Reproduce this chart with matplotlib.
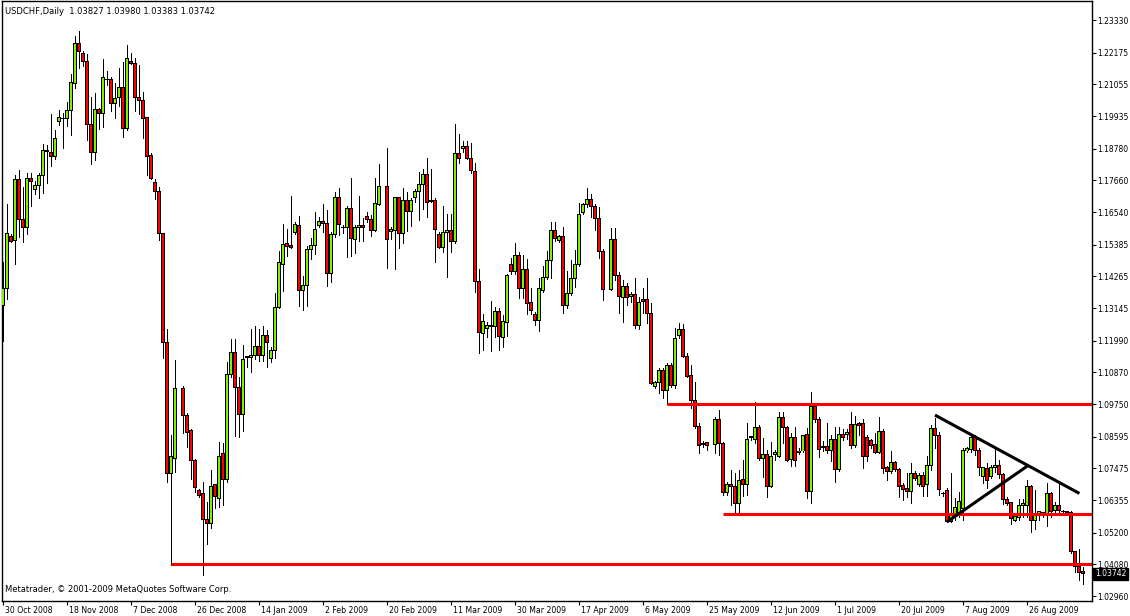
import numpy as np
import matplotlib
matplotlib.use("Agg")
import matplotlib.pyplot as plt
from matplotlib.patches import Rectangle
from matplotlib.collections import LineCollection, PatchCollection
from matplotlib.transforms import ScaledTranslation, blended_transform_factory

N = None
opens = [1.1322,1.1384,1.1569,1.1555,1.1768,1.1628,1.1599,1.1774,1.1734,1.1749,1.1784,1.1870,1.1865,1.1850,1.1975,1.1983,1.1985,1.2014,1.2109,1.2250,
 1.2213,1.2188,1.1963,1.1865,1.2018,1.2003,1.2124,1.2124,1.2038,1.2059,1.2094,1.1949,1.2188,1.2180,1.2059,1.2050,1.1988,1.1855,1.1759,1.1728,
 1.1578,1.1194,1.0730,1.0783,N,1.1031,1.0936,1.0880,1.0777,1.0671,1.0657,1.0567,1.0553,1.0689,1.0642,1.0801,1.0709,1.1081,1.1158,1.1033,
 1.0939,1.1143,1.1140,1.1148,1.1180,1.1148,1.1216,1.1137,1.1163,1.1318,1.1470,1.1543,1.1534,1.1581,1.1608,1.1376,1.1394,1.1520,1.1537,1.1606,
 1.1622,1.1614,1.1436,1.1573,1.1707,1.1598,1.1600,1.1667,1.1558,1.1599,1.1608,1.1637,1.1629,1.1590,1.1682,N,1.1743,1.1585,1.1588,1.1704,
 1.1579,1.1693,1.1655,1.1705,1.1726,1.1752,1.1785,1.1695,1.1695,1.1576,1.1529,1.1581,1.1590,1.1549,1.1862,1.1879,1.1887,1.1844,1.1799,1.1408,
 1.1225,1.1243,1.1251,1.1249,1.1302,1.1211,1.1264,1.1469,1.1443,1.1502,1.1384,1.1451,1.1334,1.1293,1.1270,1.1377,1.1423,1.1484,1.1587,1.1553,
 1.1569,1.1322,1.1367,1.1420,1.1469,1.1651,1.1682,1.1699,1.1675,1.1632,1.1516,N,1.1381,1.1558,1.1429,1.1352,1.1390,1.1355,1.1363,1.1252,
 1.1343,1.1343,1.1296,1.1038,1.1051,1.1092,1.1022,1.1110,1.1039,1.1216,1.1239,1.1142,1.1075,1.0989,1.0895,1.0834,1.0840,N,1.0833,1.0922,
 1.0836,1.0662,1.0691,1.0685,1.0624,1.0709,1.0691,1.0856,1.0850,1.0893,1.0783,1.0798,1.0685,1.0797,1.0791,1.0928,1.0893,1.0780,1.0857,1.0809,
 1.0809,1.0868,1.0666,1.0968,1.0919,1.0824,1.0824,1.0810,1.0851,1.0744,1.0868,1.0866,1.0903,1.0828,1.0905,1.0907,1.0856,1.0845,1.0833,1.0803,
 1.0877,1.0750,1.0736,1.0769,1.0744,1.0688,1.0677,1.0665,1.0730,1.0691,1.0721,1.0690,1.0757,1.0888,1.0865,1.0660,1.0671,1.0559,1.0577,1.0589,
 1.0606,1.0809,1.0816,1.0856,1.0812,1.0718,1.0748,1.0718,1.0750,1.0759,1.0726,1.0639,1.0627,1.0563,1.0573,1.0615,1.0615,1.0685,1.0565,1.0589,
 1.0592,1.0589,1.0659,1.0597,1.0618,1.0595,1.0596,1.0591,1.0453,1.0400,1.03827]
highs = [1.1478,1.1684,1.1578,1.1784,1.1803,1.1743,1.1793,1.1793,1.1765,1.1793,1.1893,1.1890,1.1999,1.1943,1.2015,1.2003,1.2043,1.2143,1.2278,1.2294,
 1.2224,1.2213,1.2059,1.2074,1.2022,1.2195,1.2153,1.2130,1.2109,1.2163,1.2183,1.2244,1.2215,1.2197,1.2175,1.2080,1.1990,1.1863,1.1772,1.1743,
 1.1580,1.1240,1.0866,1.1131,N,1.1039,1.0942,1.0886,1.0780,1.0674,1.0700,1.0630,1.0742,1.0692,1.0842,1.0838,1.1125,1.1205,1.1205,1.1072,
 1.1184,1.1145,1.1239,1.1251,1.1239,1.1251,1.1237,1.1176,1.1366,1.1516,1.1612,1.1594,1.1711,1.1618,1.1641,1.1429,1.1535,1.1561,1.1653,1.1635,
 1.1681,1.1661,1.1584,1.1726,1.1740,1.1608,1.1676,1.1773,1.1608,1.1711,1.1634,1.1655,1.1643,1.1775,1.1823,N,1.1879,1.1602,1.1708,1.1708,
 1.1738,1.1726,1.1702,1.1735,1.1794,1.1806,1.1846,1.1806,1.1702,1.1584,1.1675,1.1646,1.1646,1.1965,1.1930,1.1905,1.1905,1.1897,1.1826,1.1451,
 1.1292,1.1266,1.1339,1.1319,1.1313,1.1290,1.1434,1.1492,1.1546,1.1514,1.1502,1.1488,1.1384,1.1302,1.1420,1.1464,1.1516,1.1620,1.1620,1.1573,
 1.1602,1.1447,1.1484,1.1520,1.1685,1.1687,1.1738,1.1718,1.1682,1.1673,1.1522,N,1.1596,1.1596,1.1443,1.1414,1.1402,1.1372,1.1420,1.1355,
 1.1384,1.1420,1.1333,1.1057,1.1101,1.1101,1.1119,1.1119,1.1243,1.1260,1.1258,1.1157,1.1113,1.1054,1.0907,1.0845,1.0842,N,1.0928,1.0954,
 1.0842,1.0700,1.0742,1.0730,1.0742,1.0777,1.0907,1.0860,1.0983,1.0901,1.0856,1.0812,1.0842,1.0812,1.0948,1.0948,1.0898,1.0872,1.0893,1.0818,
 1.0866,1.0889,1.1019,1.0978,1.0928,1.0846,1.0907,1.0866,1.0895,1.0895,1.0886,1.0886,1.0948,1.0933,1.0910,1.0921,1.0866,1.0851,1.0872,1.0930,
 1.0886,1.0756,1.0809,1.0774,1.0748,1.0695,1.0730,1.0765,1.0738,1.0730,1.0736,1.0793,1.0900,1.0924,1.0877,1.0663,1.0677,1.0730,1.0644,1.0665,
 1.0818,1.0822,1.0868,1.0866,1.0818,1.0754,1.0765,1.0760,1.0816,1.0777,1.0730,1.0648,1.0630,1.0580,1.0641,1.0641,1.0706,1.0688,1.0671,1.0598,
 1.0593,1.0697,1.0663,1.0630,1.0691,1.0600,1.0598,1.0597,1.0455,1.0462,1.03980]
lows = [1.1197,1.1347,1.1547,1.1469,1.1565,1.1547,1.1578,1.1674,1.1718,1.1705,1.1722,1.1755,1.1818,1.1840,1.1962,1.1881,1.1959,1.1928,1.2093,1.2165,
 1.2172,1.1909,1.1825,1.1837,1.1947,1.1955,1.2103,1.2012,1.1988,1.2030,1.1918,1.1943,1.2178,1.2013,1.2000,1.1915,1.1784,1.1772,1.1700,1.1555,
 1.1138,1.0700,1.0406,1.0736,N,1.0874,1.0824,1.0709,1.0665,1.0647,1.0371,1.0480,1.0536,1.0606,1.0612,1.0618,1.0700,1.1070,1.0863,1.0857,
 1.0881,1.1105,1.1089,1.1133,1.1128,1.1128,1.1107,1.1122,1.1138,1.1316,1.1375,1.1500,1.1526,1.1577,1.1323,1.1308,1.1323,1.1488,1.1506,1.1600,
 1.1584,1.1394,1.1406,1.1567,1.1573,1.1579,1.1496,1.1500,1.1508,1.1552,1.1552,1.1620,1.1570,1.1588,1.1679,N,1.1457,1.1559,1.1453,1.1528,
 1.1543,1.1587,1.1606,1.1688,1.1626,1.1665,1.1637,1.1691,1.1478,1.1528,1.1514,1.1425,1.1514,1.1543,1.1828,1.1867,1.1841,1.1793,1.1370,1.1154,
 1.1166,1.1211,1.1164,1.1213,1.1166,1.1176,1.1217,1.1434,1.1434,1.1351,1.1351,1.1293,1.1293,1.1255,1.1233,1.1372,1.1417,1.1420,1.1553,1.1549,
 1.1298,1.1314,1.1361,1.1390,1.1463,1.1646,1.1673,1.1635,1.1590,1.1493,1.1343,N,1.1378,1.1414,1.1296,1.1266,1.1325,1.1337,1.1243,1.1240,
 1.1296,1.1261,1.1046,1.1031,1.1015,1.0995,1.0975,1.1034,1.1031,1.1208,1.1140,1.1072,1.0960,1.0889,1.0803,1.0822,1.0812,N,1.0801,1.0795,
 1.0653,1.0653,1.0618,1.0591,1.0595,1.0650,1.0653,1.0848,1.0836,1.0777,1.0716,1.0645,1.0683,1.0777,1.0787,1.0836,1.0775,1.0756,1.0756,1.0798,
 1.0807,1.0642,1.0626,1.0913,1.0789,1.0810,1.0801,1.0774,1.0700,1.0739,1.0848,1.0853,1.0821,1.0824,1.0864,1.0748,1.0772,1.0818,1.0801,1.0801,
 1.0732,1.0706,1.0730,1.0738,1.0648,1.0636,1.0648,1.0624,1.0706,1.0686,1.0651,1.0651,1.0741,1.0818,1.0653,1.0651,1.0557,1.0557,1.0565,1.0577,
 1.0565,1.0807,1.0807,1.0795,1.0724,1.0695,1.0677,1.0715,1.0736,1.0712,1.0621,1.0618,1.0550,1.0560,1.0565,1.0577,1.0574,1.0524,1.0533,1.0565,
 1.0577,1.0544,1.0577,1.0592,1.0583,1.0589,1.0585,1.0447,1.0382,1.0353,1.03383]
closes = [1.1384,1.1578,1.1550,1.1768,1.1628,1.1599,1.1774,1.1762,1.1749,1.1784,1.1870,1.1868,1.1850,1.1915,1.1988,1.1985,1.2014,1.2113,1.2250,1.2222,
 1.2188,1.1963,1.1865,1.2018,1.2003,1.2130,1.2122,1.2038,1.2057,1.2094,1.1949,1.2197,1.2179,1.2059,1.2050,1.1984,1.1850,1.1774,1.1728,1.1578,
 1.1194,1.0730,1.0789,1.1031,N,1.0936,1.0874,1.0777,1.0681,1.0651,1.0567,1.0553,1.0685,1.0647,1.0791,1.0709,1.1081,1.1158,1.1033,1.0939,
 1.1131,1.1141,1.1148,1.1180,1.1148,1.1216,1.1193,1.1163,1.1318,1.1474,1.1540,1.1531,1.1528,1.1611,1.1376,1.1394,1.1520,1.1537,1.1593,1.1622,
 1.1613,1.1436,1.1573,1.1707,1.1611,1.1600,1.1667,1.1561,1.1599,1.1608,1.1599,1.1628,1.1588,1.1685,1.1743,N,1.1558,1.1592,1.1704,1.1579,
 1.1693,1.1655,1.1695,1.1728,1.1753,1.1785,1.1687,1.1692,1.1593,1.1529,1.1582,1.1590,1.1549,1.1862,1.1844,1.1887,1.1844,1.1800,1.1408,1.1227,
 1.1266,1.1251,1.1249,1.1302,1.1213,1.1266,1.1429,1.1443,1.1502,1.1384,1.1451,1.1331,1.1305,1.1270,1.1382,1.1423,1.1482,1.1587,1.1561,1.1569,
 1.1323,1.1367,1.1420,1.1469,1.1646,1.1681,1.1699,1.1673,1.1632,1.1514,1.1381,N,1.1558,1.1429,1.1355,1.1390,1.1352,1.1363,1.1252,1.1335,
 1.1339,1.1296,1.1048,1.1051,1.1092,1.1022,1.1113,1.1039,1.1208,1.1239,1.1142,1.1074,1.0989,1.0895,1.0830,1.0831,1.0827,N,1.0922,1.0836,
 1.0662,1.0691,1.0683,1.0624,1.0706,1.0691,1.0850,1.0859,1.0893,1.0783,1.0798,1.0685,1.0789,1.0803,1.0928,1.0893,1.0777,1.0857,1.0775,1.0803,
 1.0863,1.0665,1.0968,1.0919,1.0815,1.0820,1.0810,1.0851,1.0744,1.0868,1.0857,1.0874,1.0830,1.0903,1.0900,1.0789,1.0789,1.0827,1.0803,1.0877,
 1.0748,1.0736,1.0769,1.0744,1.0683,1.0673,1.0667,1.0730,1.0712,1.0721,1.0683,1.0757,1.0888,1.0865,1.0674,1.0657,1.0559,1.0589,1.0610,1.0632,
 1.0812,1.0818,1.0856,1.0812,1.0750,1.0750,1.0706,1.0750,1.0759,1.0726,1.0639,1.0624,1.0571,1.0577,1.0615,1.0622,1.0685,1.0565,1.0589,1.0595,
 1.0590,1.0659,1.0595,1.0618,1.0600,1.0594,1.0592,1.0453,1.0400,1.0380,1.03742]

date_labels = ["30 Oct 2008", "18 Nov 2008", "7 Dec 2008", "26 Dec 2008", "14 Jan 2009", "2 Feb 2009",
               "20 Feb 2009", "11 Mar 2009", "30 Mar 2009", "17 Apr 2009", "6 May 2009", "25 May 2009",
               "12 Jun 2009", "1 Jul 2009", "20 Jul 2009", "7 Aug 2009", "26 Aug 2009"]
bars_per_label = 16
price_ticks = [1.23330, 1.22175, 1.21055, 1.19935, 1.18780, 1.17660, 1.16540, 1.15385, 1.14265, 1.13145,
               1.11990, 1.10870, 1.09750, 1.08595, 1.07475, 1.06355, 1.05200, 1.04080, 1.02960]
# horizontal support/resistance levels: (price, first bar)
level_prices = [1.0975, 1.0585, 1.0408]
level_start_bars = [166, 180, 42]
# triangle trend lines: (bar0, price0, bar1, price1)
trend_a = (233, 1.0936, 269.1, 1.0659)
trend_b = (236.1, 1.0559, 256.1, 1.0756)
symbol_info = "USDCHF,Daily"
copyright_text = "Metatrader, \u00a9 2001-2009 MetaQuotes Software Corp."

O = np.array([np.nan if v is None else v for v in opens], float)
Hh = np.array([np.nan if v is None else v for v in highs], float)
L = np.array([np.nan if v is None else v for v in lows], float)
C = np.array([np.nan if v is None else v for v in closes], float)
n = len(O)
idx = np.arange(n)

W, H = 1130, 616
fig = plt.figure(figsize=(W / 100, H / 100), dpi=100)
ax = fig.add_axes([2 / W, 15 / H, 1090 / W, 600 / H])
ax.set_xlim(-0.25, 272.25)
ax.set_ylim(1.02786, 1.24002)

FONT = "DejaVu Sans"
FS = 6.0
FS_AX = 5.5
FS_X = 5.6

bull = "#80F000"
bear = "#FF0000"

valid = ~np.isnan(O)
segs = [[(i, L[i]), (i, Hh[i])] for i in idx[valid]]
ax.add_collection(LineCollection(segs, colors="black", linewidths=0.72, antialiaseds=False, zorder=2))
outer = []
inner = []
cols = []
ppx = (1.24002 - 1.02786) / 600.0   # price per pixel (for the 1 px outline)
bw_out = 0.80
bw_in = 0.32
for i in idx[valid]:
    lo = min(O[i], C[i]); hi = max(O[i], C[i])
    outer.append(Rectangle((i - bw_out / 2, lo - ppx * 0.5), bw_out, hi - lo + ppx))
    if hi - lo > ppx:
        inner.append(Rectangle((i - bw_in / 2, lo + ppx * 0.5), bw_in, hi - lo - ppx))
        cols.append(bull if C[i] >= O[i] else bear)
ax.add_collection(PatchCollection(outer, facecolors="black", edgecolors="none", antialiaseds=False, zorder=3))
ax.add_collection(PatchCollection(inner, facecolors=cols, edgecolors="none", antialiaseds=False, zorder=3.5))

for p, s in zip(level_prices, level_start_bars):
    ax.plot([s, 272.25], [p, p], color="#FF0000", lw=2.2, solid_capstyle="butt", zorder=4)
for t in (trend_a, trend_b):
    ax.plot([t[0], t[2]], [t[1], t[3]], color="black", lw=2.2, solid_capstyle="butt", zorder=5)

for sp in ax.spines.values():
    sp.set_color("black"); sp.set_linewidth(1.0)

ax.yaxis.tick_right()
ax.set_yticks(price_ticks)
ax.set_yticklabels([f"{v:.5f}" for v in price_ticks], fontsize=FS_AX, family=FONT)
ax.tick_params(axis="y", direction="out", length=3, width=0.8, pad=1.0, colors="black")

xt = [k * bars_per_label for k in range(len(date_labels))]
ax.set_xticks(xt)
ax.set_xticklabels(date_labels, fontsize=FS_X, family=FONT)
ax.tick_params(axis="x", direction="out", length=3, width=0.8, pad=0.3, colors="black")
off = ScaledTranslation(2 / 100, 0, fig.dpi_scale_trans)
for lab in ax.get_xticklabels():
    lab.set_horizontalalignment("left")
    lab.set_transform(lab.get_transform() + off)

last_o, last_h, last_l, last_c = O[-1], Hh[-1], L[-1], C[-1]
header = f"{symbol_info}  {last_o:.5f} {last_h:.5f} {last_l:.5f} {last_c:.5f}"
ax.text(3 / 1090, 1 - 10 / 600, header, transform=ax.transAxes, fontsize=FS, family=FONT,
        va="center", ha="left", color="black")
ax.text(3 / 1090, 11 / 600, copyright_text, transform=ax.transAxes, fontsize=FS, family=FONT,
        va="center", ha="left", color="black")

tr = blended_transform_factory(ax.transAxes, ax.transData)
ax.text(1.0 + 3 / 1090, last_c, f"{last_c:.5f}", transform=tr, fontsize=FS_AX, family=FONT,
        color="white", va="center", ha="left",
        bbox=dict(boxstyle="square,pad=0.2", facecolor="black", edgecolor="black"), zorder=10, clip_on=False)

fig.savefig("out.png", dpi=100, facecolor="white")
